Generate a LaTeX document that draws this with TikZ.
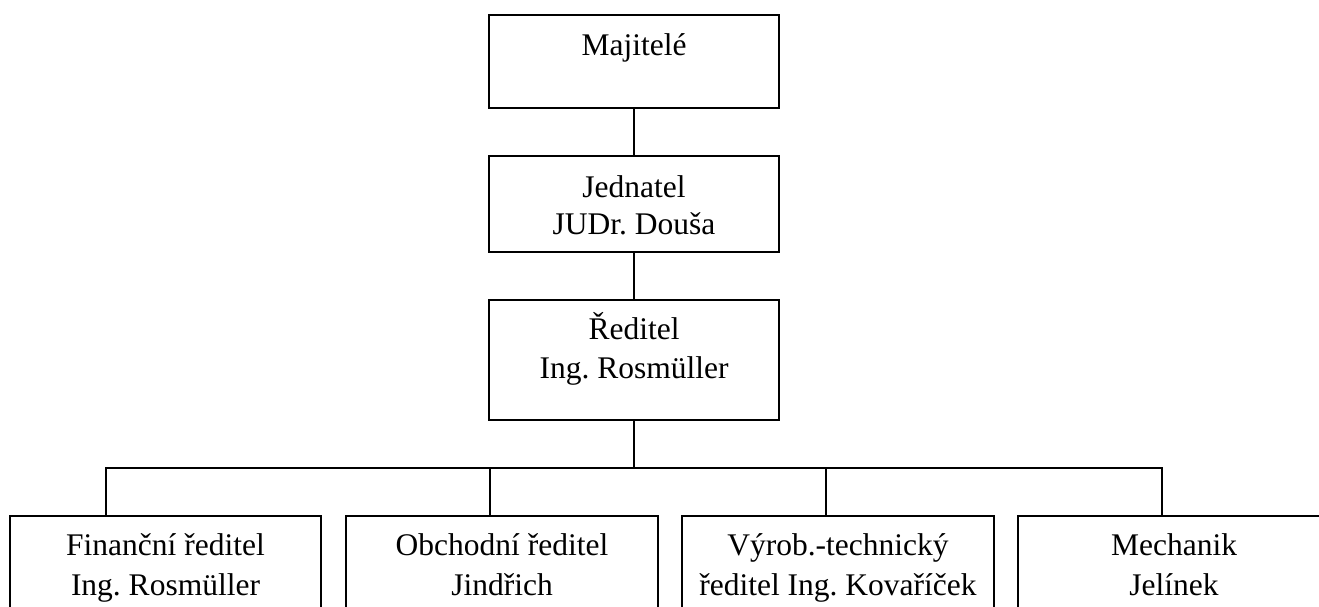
\documentclass[tikz,border=0pt]{standalone}
\usepackage{fontspec}
\setmainfont{Liberation Serif}
\frenchspacing
\begin{document}
\begin{tikzpicture}[x=1pt,y=-1pt,
  orgbox/.style={draw, line width=2pt, inner sep=0pt, minimum width=290pt},
  lowbox/.style={draw, line width=2pt, inner sep=0pt, minimum width=312pt, minimum height=124pt},
  conn/.style={line width=2pt},
  lbl/.style={anchor=base, inner sep=0pt, font=\fontsize{31.5}{40}\selectfont}]
\useasboundingbox (0,0) rectangle (1319,606);
\clip (0,0) rectangle (1319,606);

% upper chain of command
\node[orgbox, minimum height=93pt]  (maj) at (634,61.5) {};
\node[orgbox, minimum height=96pt]  (jed) at (634,204)  {};
\node[orgbox, minimum height=120pt] (red) at (634,360)  {};

\node[lbl] at (634,55)  {Majitelé};
\node[lbl] at (634,197) {Jednatel};
\node[lbl] at (634,234) {JUDr. Douša};
\node[lbl] at (634,339) {Ředitel};
\node[lbl] at (634,378) {Ing. Rosmüller};

% departments (boxes run past the lower edge)
\node[lowbox, minimum width=311pt] (fin) at (165.5,578) {};
\node[lowbox] (obc) at (502,578)  {};
\node[lowbox] (vyr) at (838,578)  {};
\node[lowbox] (mech) at (1174,578) {};

\node[lbl] at (165.5,555) {Finanční ředitel};
\node[lbl] at (165.5,595) {Ing. Rosmüller};
\node[lbl] at (502,555)   {Obchodní ředitel};
\node[lbl] at (502,595)   {Jindřich};
\node[lbl] at (838,555)   {Výrob.-technický};
\node[lbl] at (838,595)   {ředitel Ing. Kovaříček};
\node[lbl] at (1174,555)  {Mechanik};
\node[lbl] at (1174,595)  {Jelínek};

% connectors
\coordinate (bus) at (634,468);
\coordinate (d1) at (106,516);
\coordinate (d2) at (490,516);
\coordinate (d3) at (826,516);
\coordinate (d4) at (1162,516);

\draw[conn] (maj.south) -- (jed.north);
\draw[conn] (jed.south) -- (red.north);
\draw[conn] (red.south) -- (bus);
\draw[conn] (bus) -| (d1);
\draw[conn] (bus) -| (d2);
\draw[conn] (bus) -| (d3);
\draw[conn] (bus) -| (d4);
\end{tikzpicture}
\end{document}
